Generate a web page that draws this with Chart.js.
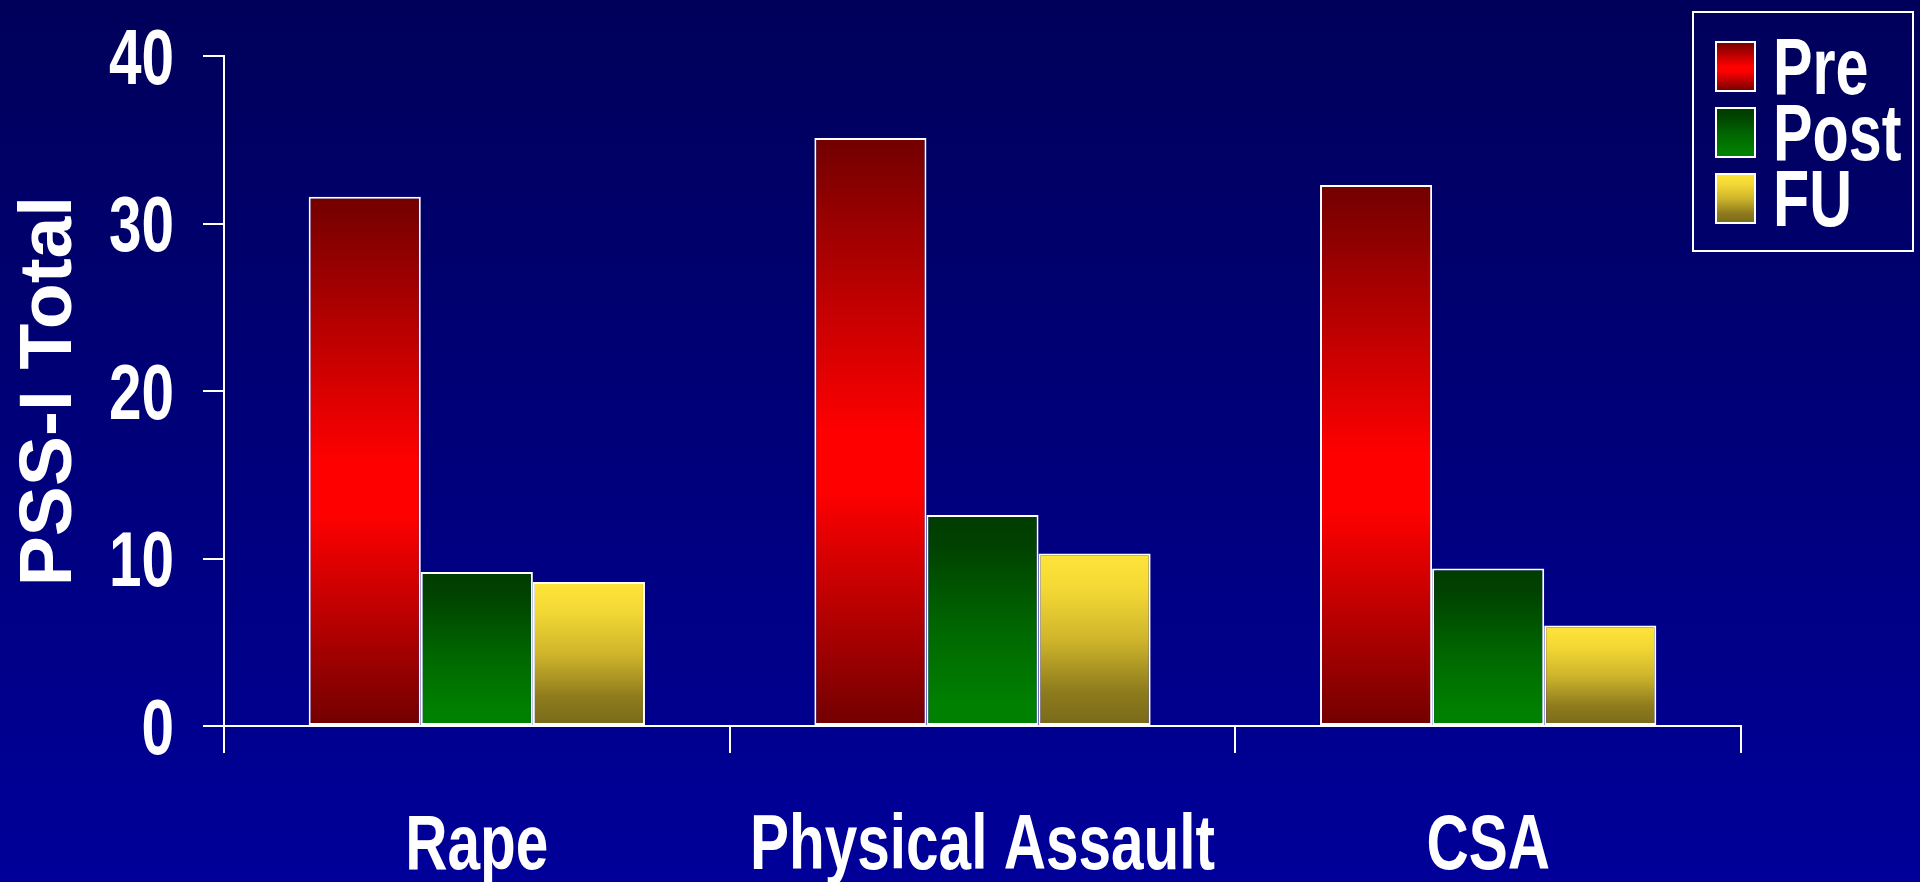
<!DOCTYPE html>
<html>
<head>
<meta charset="utf-8">
<title>PSS-I Total by trauma type</title>
<script src="https://cdn.jsdelivr.net/npm/chart.js@4.4.1/dist/chart.umd.min.js"></script>
<style>
  html, body { margin: 0; padding: 0; width: 1920px; height: 882px; overflow: hidden; background: #00007a; }
  #wrap { position: relative; width: 1920px; height: 882px; }
</style>
</head>
<body>
<div id="wrap"><canvas id="chart"></canvas></div>
<script>
// ---- data ----
const categories = ['Rape', 'Physical Assault', 'CSA'];
const seriesNames = ['Pre', 'Post', 'FU'];
const preValues  = [31.6, 35.1, 32.3];
const postValues = [9.2, 12.6, 9.4];
const fuValues   = [8.6, 10.3, 6.0];
const yTickValues = [0, 10, 20, 30, 40];
const yAxisTitle = 'PSS-I Total';

// ---- styling ----
const FONT = "'Liberation Sans', Arial, Helvetica, sans-serif";

const fills = {
  Pre:  [[0, '#720000'], [0.5, '#ff0000'], [0.6, '#ff0000'], [1, '#720000']],
  Post: [[0, '#003c00'], [0.15, '#004200'], [0.55, '#006800'], [0.9, '#008000'], [1, '#008000']],
  FU:   [[0, '#ffe43a'], [0.2, '#f4d935'], [0.5, '#cfb52b'], [0.8, '#8e7b1d'], [1, '#786a1a']]
};

function gradientFor(ctx2d, stops, top, bottom) {
  const g = ctx2d.createLinearGradient(0, top, 0, bottom);
  stops.forEach(([o, c]) => g.addColorStop(o, c));
  return g;
}

// each bar gets its own vertical gradient, from its top down to the zero line
function barFill(stops) {
  return (ctx) => {
    const chart = ctx.chart;
    if (!chart.chartArea || ctx.type !== 'data') return stops[0][1];
    const y = chart.scales.y;
    return gradientFor(chart.ctx, stops, y.getPixelForValue(ctx.raw), y.getPixelForValue(0));
  };
}

// bold, horizontally condensed text (narrow grotesque look)
function drawCondensed(ctx, text, x, y, size, squeeze, align) {
  ctx.save();
  ctx.font = `bold ${size}px ${FONT}`;
  ctx.fillStyle = '#ffffff';
  ctx.textAlign = align;
  ctx.textBaseline = 'alphabetic';
  ctx.translate(x, y);
  ctx.scale(squeeze, 1);
  ctx.fillText(text, 0, 0);
  ctx.restore();
}

const backdrop = {
  id: 'backdrop',
  beforeDraw(chart) {
    const { ctx, width, height } = chart;
    ctx.save();
    const g = ctx.createLinearGradient(0, 0, 0, height);
    g.addColorStop(0, '#00005a');
    g.addColorStop(1, '#00009a');
    ctx.fillStyle = g;
    ctx.fillRect(0, 0, width, height);
    ctx.restore();
  }
};

// tick labels for both axes, placed from the scales' own tick positions
const narrowTickLabels = {
  id: 'narrowTickLabels',
  afterDraw(chart, args, opts) {
    const { ctx } = chart;
    const xs = chart.scales.x;
    const ys = chart.scales.y;
    xs.ticks.forEach((t, i) => {
      drawCondensed(ctx, chart.data.labels[i], xs.getPixelForTick(i), opts.xBaseline,
        opts.size, opts.squeeze, 'center');
    });
    const capHalf = opts.size * 0.716 / 2;
    ys.ticks.forEach((t) => {
      drawCondensed(ctx, String(t.value), opts.yRight, ys.getPixelForValue(t.value) + capHalf,
        opts.size, opts.squeeze, 'right');
    });
  }
};

// boxed legend in the upper-right corner
const boxedLegend = {
  id: 'boxedLegend',
  afterDraw(chart, args, opts) {
    const { ctx } = chart;
    ctx.save();
    ctx.strokeStyle = '#ffffff';
    ctx.lineWidth = 2;
    ctx.strokeRect(opts.x, opts.y, opts.w, opts.h);
    chart.data.datasets.forEach((ds, i) => {
      const sy = opts.firstY + i * opts.step;
      ctx.fillStyle = gradientFor(ctx, fills[ds.label], sy, sy + opts.swatchH);
      ctx.fillRect(opts.swatchX, sy, opts.swatchW, opts.swatchH);
      ctx.strokeStyle = '#ffffff';
      ctx.lineWidth = 2;
      ctx.strokeRect(opts.swatchX, sy, opts.swatchW, opts.swatchH);
      drawCondensed(ctx, ds.label, opts.textX, sy + opts.baselineOffset,
        opts.fontSize, opts.squeeze, 'left');
    });
    ctx.restore();
  }
};

const seriesValues = [preValues, postValues, fuValues];

new Chart(document.getElementById('chart'), {
  type: 'bar',
  data: {
    labels: categories,
    datasets: seriesNames.map((name, i) => ({
      label: name,
      data: seriesValues[i],
      backgroundColor: barFill(fills[name]),
      borderColor: '#ffffff',
      borderWidth: 2,
      borderSkipped: false,
      categoryPercentage: 0.665,
      barPercentage: 1.0
    }))
  },
  options: {
    responsive: true,
    maintainAspectRatio: false,
    animation: false,
    devicePixelRatio: 1,
    layout: { padding: { left: 0, top: 56, right: 179, bottom: 0 } },
    plugins: {
      legend: { display: false },
      tooltip: { enabled: false },
      narrowTickLabels: { size: 77, squeeze: 0.76, xBaseline: 869, yRight: 174 },
      boxedLegend: {
        x: 1693, y: 12, w: 220, h: 239,
        swatchX: 1716, swatchW: 39, swatchH: 49,
        firstY: 42, step: 66, baselineOffset: 52,
        textX: 1773, fontSize: 79, squeeze: 0.75
      }
    },
    scales: {
      x: {
        afterFit(scale) { scale.height = 156; },
        grid: {
          offset: true,
          drawOnChartArea: false,
          drawTicks: true,
          tickLength: 27,
          color: '#ffffff',
          lineWidth: 2
        },
        border: { display: true, color: '#ffffff', width: 2 },
        ticks: { display: false, autoSkip: false }
      },
      y: {
        min: 0,
        max: 40,
        afterFit(scale) { scale.width = 224; },
        afterBuildTicks(scale) { scale.ticks = yTickValues.map(v => ({ value: v })); },
        grid: {
          drawOnChartArea: false,
          drawTicks: true,
          tickLength: 21,
          color: '#ffffff',
          lineWidth: 2
        },
        border: { display: true, color: '#ffffff', width: 2 },
        ticks: { display: false },
        title: {
          display: true,
          text: yAxisTitle,
          color: '#ffffff',
          padding: { top: 5, bottom: 0 },
          font: { family: FONT, size: 75, weight: 'bold' }
        }
      }
    }
  },
  plugins: [backdrop, narrowTickLabels, boxedLegend]
});
</script>
</body>
</html>
